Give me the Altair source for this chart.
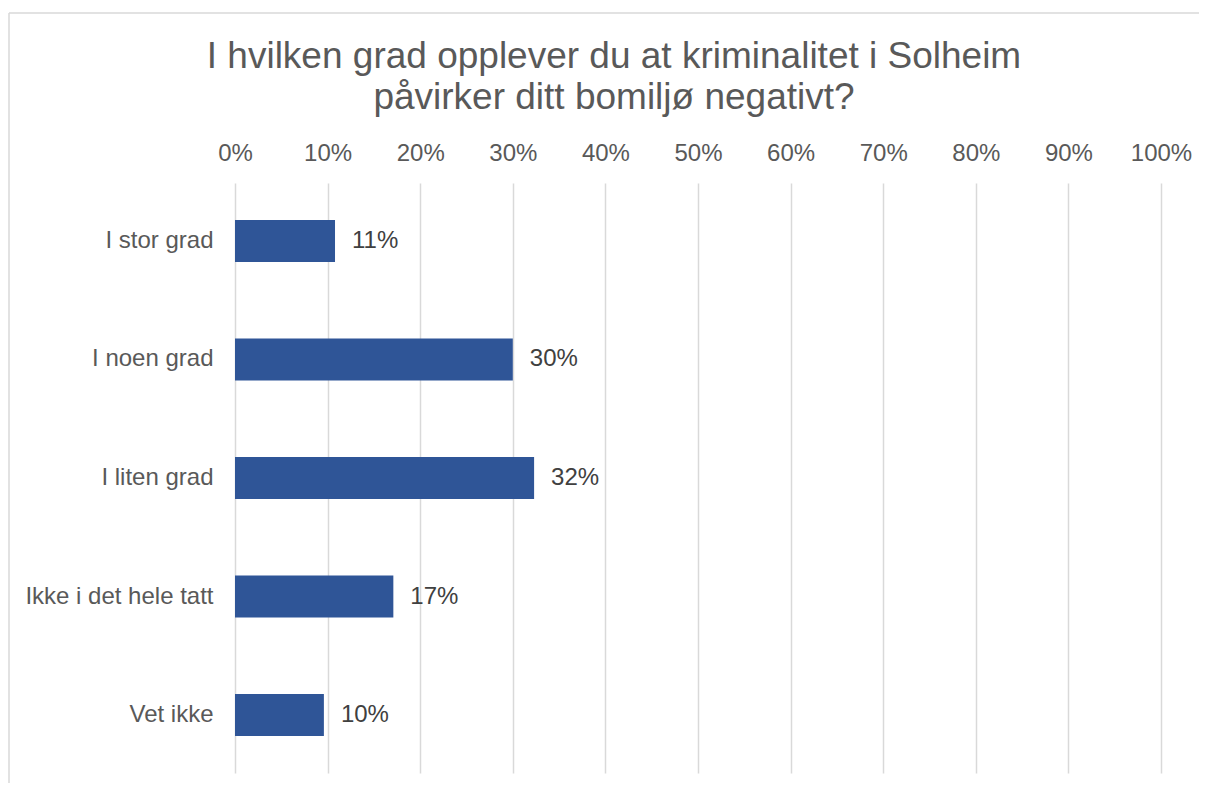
import altair as alt
import pandas as pd

categories = ["I stor grad", "I noen grad", "I liten grad", "Ikke i det hele tatt", "Vet ikke"]
values = [0.108, 0.300, 0.323, 0.171, 0.096]
x_ticks = [0, 0.1, 0.2, 0.3, 0.4, 0.5, 0.6, 0.7, 0.8, 0.9, 1.0]
title_lines = ["I hvilken grad opplever du at kriminalitet i Solheim", "påvirker ditt bomiljø negativt?"]

df = pd.DataFrame({"cat": categories, "val": values})
one = pd.DataFrame({"k": [0]})

FONT = "Liberation Sans"
GRAY = "#595959"

x_enc = alt.X("val:Q",
              scale=alt.Scale(domain=[0, 1], nice=False),
              axis=alt.Axis(orient="top", values=x_ticks, format=".0%", title=None,
                            domain=False, ticks=False, grid=True, gridColor="#D9D9D9",
                            gridWidth=1.5, labelFont=FONT, labelFontSize=24,
                            labelColor=GRAY, labelPadding=18, labelFlush=False,
                            labelOverlap=False))
y_enc = alt.Y("cat:N", sort=categories,
              scale=alt.Scale(paddingInner=0.6456, paddingOuter=0.312),
              axis=alt.Axis(title=None, domain=False, ticks=False, grid=False,
                            labelFont=FONT, labelFontSize=24, labelColor=GRAY,
                            labelPadding=22, labelLimit=400))

bars = alt.Chart(df).mark_bar(color="#2F5597").encode(x=x_enc, y=y_enc)

labels = alt.Chart(df).mark_text(align="left", baseline="middle", dx=17,
                                 font=FONT, fontSize=24, color="#404040").encode(
    x="val:Q", y=alt.Y("cat:N", sort=categories),
    text=alt.Text("val:Q", format=".0%"))

title = alt.Chart(one).mark_text(text=title_lines, align="center", baseline="alphabetic",
                                 lineHeight=41, font=FONT, fontSize=37, color=GRAY).encode(
    x=alt.value(379), y=alt.value(-115))

border_left = alt.Chart(one).mark_rule(color="#D9D9D9", strokeWidth=1.5).encode(
    x=alt.value(-226), y=alt.value(-170), y2=alt.value(620))
border_top = alt.Chart(one).mark_rule(color="#D9D9D9", strokeWidth=1.5).encode(
    x=alt.value(-226), x2=alt.value(1000), y=alt.value(-170))

chart = alt.layer(border_left, border_top, bars, labels, title).properties(
    width=926, height=590,
    autosize=alt.AutoSizeParams(type="none"),
    padding={"left": 227, "top": 175, "right": 38, "bottom": 10},
).configure_view(stroke=None)

chart.save("out.html", embed_options={"renderer": "svg", "actions": False})
